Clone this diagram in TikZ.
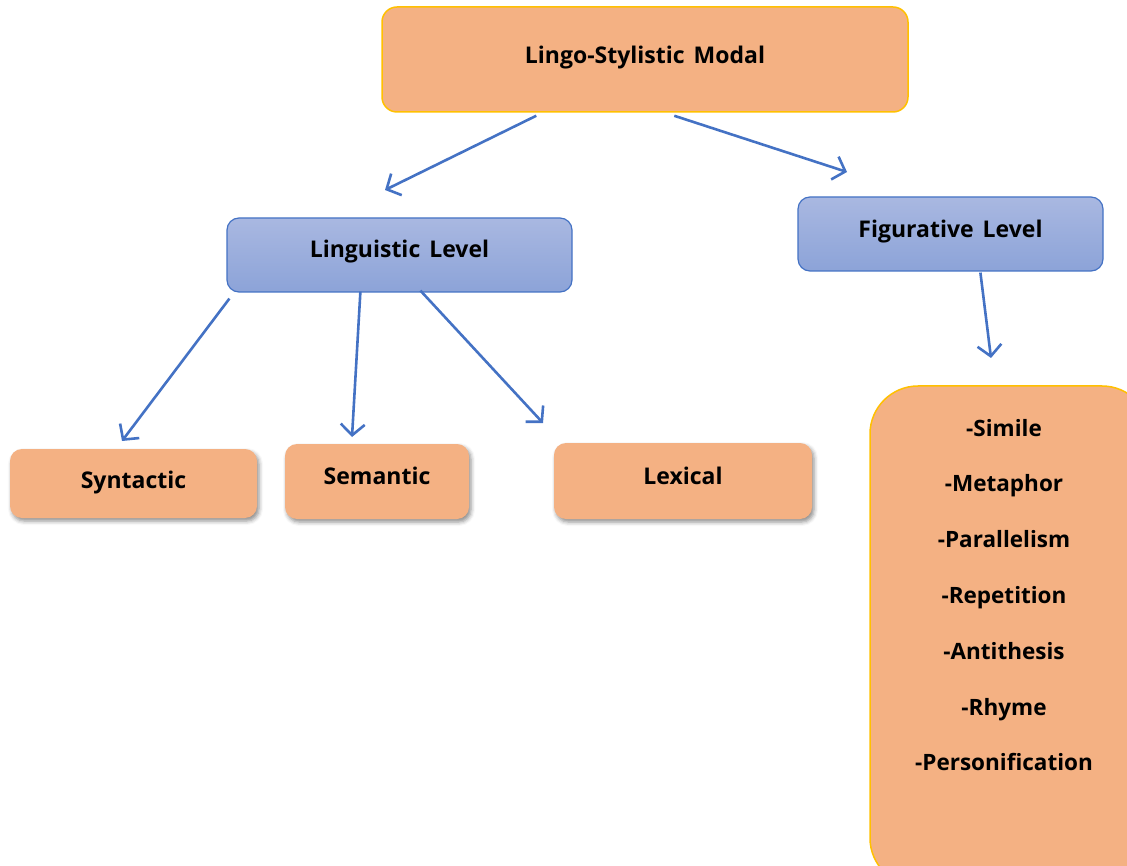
\documentclass[tikz,border=0pt]{standalone}
\usepackage{fontspec}
\setmainfont{Open Sans}
\usetikzlibrary{arrows.meta,shadows.blur,calc}
\definecolor{peach}{HTML}{F4B183}
\definecolor{gold}{HTML}{FFC000}
\definecolor{edgeblue}{HTML}{4472C4}
\definecolor{bluetop}{HTML}{A9B8E1}
\definecolor{bluebot}{HTML}{8CA3D8}
\newcommand{\wordgap}{\hspace{9pt}}
\tikzset{
  labeltext/.style={font=\bfseries\fontsize{23}{27}\selectfont, inner sep=0pt},
  orangebox/.style={rectangle, rounded corners=15pt, fill=peach, draw=gold, line width=1.5pt, inner sep=0pt},
  bluebox/.style={rectangle, rounded corners=12pt, top color=bluetop, bottom color=bluebot,
    draw=edgeblue, line width=1.2pt, inner sep=0pt},
  leafbox/.style={rectangle, rounded corners=12pt, fill=peach, draw=none, inner sep=0pt,
    blur shadow={shadow xshift=2pt, shadow yshift=-3pt, shadow blur radius=4pt, shadow opacity=45}},
  link/.style={draw=edgeblue, line width=2.6pt, -{Straight Barb[length=11pt,width=24pt,line width=2.6pt]}}
}
\begin{document}
\begin{tikzpicture}[x=1pt,y=-1pt]
\useasboundingbox (0,0) rectangle (1127,866);
\clip (0,0) rectangle (1127,866);

% boxes
\node[orangebox, minimum width=526pt, minimum height=105pt] (top) at (645,59.5) {};
\node[labeltext] at (645,58) (toplabel) {Lingo-Stylistic\wordgap Modal};

\node[bluebox, minimum width=345pt, minimum height=74pt] (ling) at (399.5,255) {};
\node[labeltext] at (399.5,252) (linglabel) {Linguistic\wordgap Level};

\node[bluebox, minimum width=305pt, minimum height=74pt] (fig) at (950.5,234) {};
\node[labeltext] at (950.5,232) (figlabel) {Figurative\wordgap Level};

\node[leafbox, minimum width=247pt, minimum height=69pt] (syn) at (133.5,483.5) {};
\node[labeltext] at (133.5,483) (synlabel) {Syntactic};

\node[leafbox, minimum width=184pt, minimum height=75pt] (sem) at (377,481.5) {};
\node[labeltext] at (377,476) (semlabel) {Semantic};

\node[leafbox, minimum width=258pt, minimum height=76pt] (lex) at (683,481) {};
\node[labeltext] at (683,476) (lexlabel) {Lexical};

\node[orangebox, rounded corners=48pt, minimum width=280pt, minimum height=500pt] (list) at (1010,636) {};
\node[labeltext, font=\bfseries\fontsize{22.5}{55.8}\selectfont, align=center] at (1004,595) (listlabel)
  {-Simile\\-Metaphor\\-Parallelism\\-Repetition\\-Antithesis\\-Rhyme\\-Personification};

% connector end points
\coordinate (t1) at ($(top.south west)+(155,3)$);
\coordinate (t2) at ($(top.south west)+(293,3)$);
\coordinate (e1) at (385,190);
\coordinate (e2) at (847,172);
\coordinate (l1) at ($(ling.south west)+(3,6)$);
\coordinate (l2) at ($(ling.south west)+(134,-1)$);
\coordinate (l3) at ($(ling.south west)+(194,-2)$);
\coordinate (s1) at (122,441);
\coordinate (s2) at (352,437);
\coordinate (s3) at (543,423);
\coordinate (f1) at ($(fig.south west)+(183,1)$);
\coordinate (f2) at (991,358);

% connectors
\draw[link] (t1) -- (e1);
\draw[link] (t2) -- (e2);
\draw[link] (l1) -- (s1);
\draw[link] (l2) -- (s2);
\draw[link] (l3) -- (s3);
\draw[link] (f1) -- (f2);
\end{tikzpicture}
\end{document}
